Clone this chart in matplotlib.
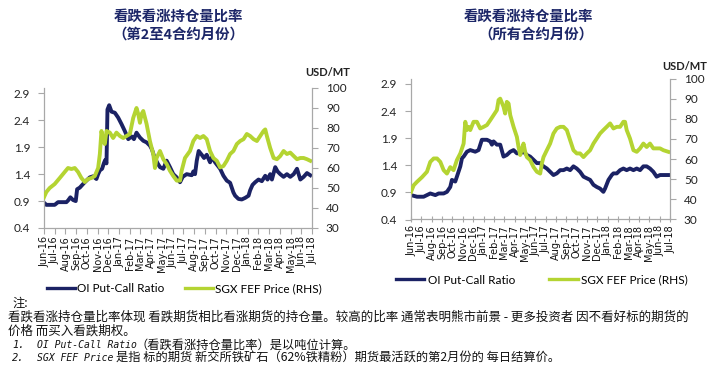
import matplotlib
matplotlib.use("Agg")
import matplotlib.pyplot as plt
from matplotlib.lines import Line2D

plt.rcParams['font.family'] = ['Lato', 'Noto Sans CJK SC', 'DejaVu Sans']

months = ['Jun-16', 'Jul-16', 'Aug-16', 'Sep-16', 'Oct-16', 'Nov-16', 'Dec-16',
          'Jan-17', 'Feb-17', 'Mar-17', 'Apr-17', 'May-17', 'Jun-17', 'Jul-17',
          'Aug-17', 'Sep-17', 'Oct-17', 'Nov-17', 'Dec-17', 'Jan-18', 'Feb-18',
          'Mar-18', 'Apr-18', 'May-18', 'Jun-18', 'Jul-18']

# ---- Left chart: 2nd-4th contract months ----
l_ratio_x = [0.00, 0.22, 1.00, 1.31, 2.09, 2.24, 2.46, 2.71, 2.96, 3.09, 3.34, 3.80, 4.27, 4.58,
             4.89, 5.05, 5.21, 5.42, 5.58, 5.70, 5.83, 5.92, 6.08, 6.30, 6.61, 6.92, 7.23, 7.54,
             7.86, 8.17, 8.39, 8.63, 8.95, 9.26, 9.57, 9.88, 10.07, 10.29, 10.60, 10.82, 11.13,
             11.44, 11.75, 12.06, 12.38, 12.69, 12.94, 13.31, 13.78, 13.93, 14.09, 14.25, 14.43,
             14.71, 14.93, 15.18, 15.49, 15.68, 15.96, 16.43, 16.74, 17.05, 17.36, 17.67, 17.83,
             18.14, 18.45, 18.77, 19.08, 19.23, 19.45, 19.70, 20.01, 20.32, 20.64, 20.85, 21.10,
             21.26, 21.57, 21.79, 22.04, 22.35, 22.66, 22.97, 23.29, 23.60, 23.91, 24.22, 24.53,
             24.84]
l_ratio = [0.87, 0.83, 0.83, 0.88, 0.88, 0.91, 0.97, 0.92, 0.90, 1.12, 1.15, 1.25, 1.34, 1.36,
           1.31, 1.40, 1.47, 1.50, 1.60, 1.66, 1.60, 2.60, 2.68, 2.56, 2.54, 2.45, 2.33, 2.20,
           2.05, 2.10, 2.05, 2.17, 2.08, 2.02, 1.99, 1.93, 1.86, 1.72, 1.60, 1.53, 1.50,
           1.65, 1.53, 1.40, 1.34, 1.25, 1.35, 1.40, 1.38, 1.45, 1.40, 1.65, 1.83,
           1.76, 1.70, 1.76, 1.62, 1.72, 1.62, 1.50, 1.37, 1.28, 1.24, 1.06, 1.00,
           0.94, 0.93, 0.96, 1.00, 1.10, 1.20, 1.25, 1.30, 1.27, 1.37, 1.30, 1.40,
           1.30, 1.53, 1.45, 1.40, 1.35, 1.40, 1.35, 1.40, 1.50, 1.30, 1.35, 1.42,
           1.38]

l_price_x = [0.00, 0.22, 0.53, 1.00, 1.47, 1.93, 2.24, 2.56, 2.87, 3.18, 3.49, 3.80, 4.11, 4.43,
             4.74, 5.05, 5.21, 5.36, 5.52, 5.67, 5.83, 6.14, 6.45, 6.76, 7.08, 7.39, 7.70, 8.01,
             8.32, 8.63, 8.79, 8.95, 9.10, 9.26, 9.57, 9.88, 10.19, 10.35, 10.50, 10.82, 11.13,
             11.44, 11.75, 12.06, 12.38, 12.69, 12.84, 13.15, 13.62, 13.93, 14.25, 14.56, 14.87,
             15.18, 15.49, 15.80, 16.12, 16.43, 16.74, 17.05, 17.36, 17.67, 17.99, 18.30, 18.61,
             18.92, 19.23, 19.55, 19.86, 20.17, 20.48, 20.64, 20.79, 21.10, 21.42, 21.73, 22.04,
             22.35, 22.66, 22.97, 23.29, 23.60, 23.91, 24.22, 24.53, 24.84]
l_price = [45.4, 48.0, 50.0, 52.0, 55.0, 58.0, 60.0, 59.5, 60.0, 58.0, 55.0, 53.0, 54.5, 55.0,
           56.0, 60.0, 67.0, 78.5, 73.5, 72.0, 78.5, 77.7, 75.0, 77.7, 76.0, 75.0, 76.0, 77.0,
           85.0, 90.0, 87.0, 82.6, 87.0, 88.5, 82.0, 73.5, 67.0, 60.0, 65.0, 68.5, 64.4,
           62.0, 58.6, 56.0, 53.7, 53.7, 58.6, 65.0, 68.5, 73.5, 76.0, 75.0, 76.0,
           74.4, 68.5, 65.0, 63.6, 60.3, 61.0, 63.6, 67.0, 68.5, 72.0, 73.5, 74.4,
           77.0, 76.0, 74.4, 73.5, 76.0, 78.5, 79.3, 76.0, 70.0, 65.0, 64.4, 66.0,
           68.5, 67.0, 67.7, 66.0, 64.4, 65.0, 65.0, 64.4, 63.6]

# ---- Right chart: all contract months ----
r_ratio_x = [0.00, 0.58, 1.22, 1.54, 1.86, 2.35, 2.67, 3.15, 3.47, 3.79, 3.95, 4.27, 4.43, 4.76,
             4.92, 5.08, 5.40, 5.72, 6.20, 6.52, 6.84, 7.33, 7.65, 7.81, 7.97, 8.29, 8.61, 8.93,
             9.25, 9.58, 9.90, 10.22, 10.54, 10.86, 11.18, 11.50, 11.83, 12.15, 12.47, 12.79,
             13.11, 13.43, 13.75, 14.07, 14.40, 14.72, 15.04, 15.36, 15.68, 16.00, 16.32, 16.65,
             16.97, 17.29, 17.61, 17.93, 18.25, 18.57, 18.73, 19.06, 19.38, 19.54, 19.86, 20.18,
             20.50, 20.82, 21.14, 21.47, 21.79, 22.11, 22.43, 22.75, 23.07, 23.39, 23.71, 24.04,
             24.36, 24.84]
r_ratio = [0.85, 0.82, 0.82, 0.85, 0.88, 0.85, 0.88, 0.88, 0.91, 1.00, 1.13, 1.10, 1.19, 1.38,
           1.53, 1.56, 1.65, 1.68, 1.65, 1.68, 1.87, 1.87, 1.84, 1.78, 1.84, 1.78, 1.78, 1.56,
           1.59, 1.65, 1.68, 1.62, 1.62, 1.65, 1.59, 1.56, 1.50, 1.44, 1.44, 1.38,
           1.34, 1.28, 1.22, 1.25, 1.31, 1.31, 1.34, 1.31, 1.38, 1.34, 1.28, 1.19,
           1.16, 1.13, 1.04, 1.00, 0.97, 0.91, 0.97, 1.13, 1.22, 1.25, 1.25, 1.31,
           1.34, 1.31, 1.34, 1.31, 1.34, 1.31, 1.38, 1.38, 1.34, 1.28, 1.19, 1.22,
           1.22, 1.22]

r_price_x = [0.00, 0.26, 0.58, 1.06, 1.54, 1.86, 2.19, 2.51, 2.83, 3.15, 3.47, 3.79, 4.11, 4.43,
             4.76, 5.08, 5.24, 5.40, 5.56, 5.72, 6.04, 6.36, 6.68, 7.01, 7.33, 7.65, 7.97, 8.29,
             8.45, 8.61, 8.93, 9.09, 9.25, 9.42, 9.58, 9.90, 10.22, 10.38, 10.54, 10.70, 10.86,
             11.02, 11.18, 11.50, 11.83, 12.15, 12.47, 12.63, 12.79, 13.11, 13.43, 13.75, 14.07,
             14.40, 14.72, 15.04, 15.36, 15.68, 16.00, 16.32, 16.65, 16.97, 17.29, 17.61, 17.93,
             18.25, 18.57, 18.89, 19.22, 19.54, 19.86, 20.18, 20.50, 20.66, 20.82, 21.14, 21.47,
             21.79, 22.11, 22.43, 22.75, 23.07, 23.39, 23.71, 24.04, 24.36, 24.84]
r_price = [43.7, 47.0, 48.7, 51.0, 53.7, 58.6, 60.3, 60.3, 58.6, 54.5, 52.8, 56.0, 54.5, 59.5,
           62.8, 67.7, 78.5, 74.4, 76.0, 74.4, 78.5, 78.5, 75.2, 76.0, 76.9, 79.3, 81.8, 84.3,
           89.3, 90.0, 86.0, 82.6, 88.4, 87.6, 81.8, 76.0, 71.0, 66.0, 62.0, 65.0, 67.7,
           63.6, 61.0, 59.5, 56.0, 53.7, 52.8, 57.8, 61.0, 64.4, 67.7, 72.7, 75.2,
           76.0, 76.0, 74.4, 69.4, 64.4, 62.8, 62.8, 61.0, 62.8, 64.4, 67.7, 70.2,
           72.7, 74.4, 76.0, 77.7, 75.2, 76.0, 76.0, 78.5, 78.5, 74.4, 70.2, 64.4,
           63.6, 65.3, 67.7, 66.0, 67.7, 65.3, 65.3, 65.3, 64.4, 63.6]

left_ticks = [0.4, 0.9, 1.4, 1.9, 2.4, 2.9]
right_ticks = [30, 40, 50, 60, 70, 80, 90, 100]

NAVY = '#1b2264'
LIME = '#b4d432'
SPINE = '#a8a8a8'
TITLE_C = '#1c2668'

W, H = 716, 369
fig = plt.figure(figsize=(W / 100, H / 100), dpi=100)
fig.patch.set_facecolor('white')


def make_panel(rect, rx, rv, px, pv, tickdir):
    ax = fig.add_axes(rect)
    ax2 = ax.twinx()
    ax.plot(rx, rv, color=NAVY, lw=2.8, solid_joinstyle='round')
    ax2.plot(px, pv, color=LIME, lw=2.8, solid_joinstyle='round')
    ax.set_xlim(0, 25)
    ax.set_ylim(0.4, 3.0)
    ax2.set_ylim(30, 100)
    ax.set_yticks(left_ticks)
    ax.set_yticklabels([f'{t:.1f}' for t in left_ticks])
    ax2.set_yticks(right_ticks)
    ax.set_xticks(range(len(months)))
    ax.set_xticklabels(months, rotation=90, fontsize=7.0, family='DejaVu Sans', color='#111111')
    for a in (ax, ax2):
        a.patch.set_visible(False)
        a.spines['top'].set_visible(False)
        for s in ('left', 'right', 'bottom'):
            a.spines[s].set_color(SPINE)
            a.spines[s].set_linewidth(0.9)
    ax.spines['right'].set_visible(False)
    ax2.spines['left'].set_visible(False)
    ax2.spines['bottom'].set_visible(False)
    ax.tick_params(axis='y', labelsize=8.5, length=4, color=SPINE, pad=6, labelcolor='#222222')
    ax2.tick_params(axis='y', labelsize=8.5, length=4, color=SPINE, pad=6, labelcolor='#222222')
    ax.tick_params(axis='x', length=4, color=SPINE, pad=2, direction=tickdir)
    return ax, ax2


axL = make_panel([44 / W, 1 - 228 / H, 268 / W, 140 / H], l_ratio_x, l_ratio, l_price_x, l_price, 'out')
axR = make_panel([411 / W, 1 - 219.5 / H, 259 / W, 141 / H], r_ratio_x, r_ratio, r_price_x, r_price, 'inout')

cjk = ['Noto Sans CJK SC', 'DejaVu Sans']
fig.text(178 / W, 1 - 17 / H, '看跌看涨持仓量比率', ha='center', va='center', fontsize=10.4,
         fontweight='bold', color=TITLE_C, family=cjk)
fig.text(178 / W, 1 - 35 / H, '（第2至4合约月份）', ha='center', va='center', fontsize=10.4,
         fontweight='bold', color=TITLE_C, family=cjk)
fig.text(528 / W, 1 - 17 / H, '看跌看涨持仓量比率', ha='center', va='center', fontsize=10.4,
         fontweight='bold', color=TITLE_C, family=cjk)
fig.text(536 / W, 1 - 35 / H, '（所有合约月份）', ha='center', va='center', fontsize=10.4,
         fontweight='bold', color=TITLE_C, family=cjk)

fig.text(328 / W, 1 - 73 / H, 'USD/MT', ha='center', va='center', fontsize=8, fontweight='bold',
         color='#222222', family=['Lato'])
fig.text(685 / W, 1 - 66 / H, 'USD/MT', ha='center', va='center', fontsize=8, fontweight='bold',
         color='#222222', family=['Lato'])

handles = [Line2D([], [], color=NAVY, lw=2.4), Line2D([], [], color=LIME, lw=2.4)]
labels = ['OI Put-Call Ratio', 'SGX FEF Price (RHS)']
fig.legend(handles, labels, loc='center left', bbox_to_anchor=(47 / W, 1 - 289 / H), ncol=2,
           frameon=False, fontsize=8.5, handlelength=2.4, handletextpad=0.15, columnspacing=1.7,
           borderpad=0, borderaxespad=0)
fig.legend(handles, labels, loc='center left', bbox_to_anchor=(396 / W, 1 - 280 / H), ncol=2,
           frameon=False, fontsize=8.5, handlelength=2.4, handletextpad=0.3, columnspacing=2.9,
           borderpad=0, borderaxespad=0)

note_kw = dict(ha='left', va='center', color='#111111')
mono = ['DejaVu Sans Mono', 'Noto Sans CJK SC']
fig.text(12 / W, 1 - 303 / H, '注:', style='italic', family=cjk, fontsize=8.8, **note_kw)
fig.text(8 / W, 1 - 317 / H,
         '看跌看涨持仓量比率体现 看跌期货相比看涨期货的持仓量。较高的比率 通常表明熊市前景 - 更多投资者 因不看好标的期货的',
         family=cjk, fontsize=9.0, **note_kw)
fig.text(8 / W, 1 - 331 / H, '价格 而买入看跌期权。', family=cjk, fontsize=9.0, **note_kw)

fig.text(12 / W, 1 - 345 / H, '1.', style='italic', family=mono, fontsize=7.5, **note_kw)
fig.text(37 / W, 1 - 345 / H, 'OI Put-Call Ratio', style='italic', family=mono, fontsize=7.0, **note_kw)
fig.text(136 / W, 1 - 345 / H, '（看跌看涨持仓量比率）是以吨位计算。', family=cjk, fontsize=8.8, **note_kw)

fig.text(12 / W, 1 - 358 / H, '2.', style='italic', family=mono, fontsize=7.5, **note_kw)
fig.text(37 / W, 1 - 358 / H, 'SGX FEF Price', style='italic', family=mono, fontsize=7.0, **note_kw)
fig.text(116 / W, 1 - 358 / H, '是指 标的期货 新交所铁矿石（62%铁精粉）期货最活跃的第2月份的 每日结算价。',
         family=cjk, fontsize=8.8, **note_kw)

fig.savefig('out.png', dpi=100, facecolor='white')
